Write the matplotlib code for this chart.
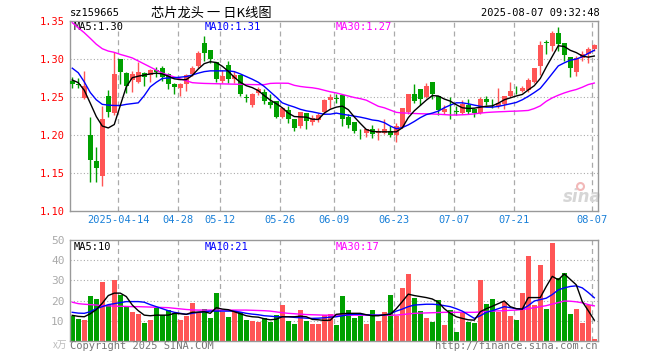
import matplotlib
matplotlib.use("Agg")
import matplotlib.pyplot as plt
import numpy as np

# header texts
code = "sz159665"
title = "芯片龙头 一 日K线图"
stamp = "2025-08-07 09:32:48"

# daily candles, 2025-04-01 .. 2025-08-07
opens = [1.271, 1.267, 1.249, 1.200, 1.166, 1.146, 1.251, 1.229, 1.300, 1.282,
         1.272, 1.270, 1.282, 1.279, 1.286, 1.2877, 1.2798, 1.2667, 1.2623, 1.2675,
         1.2798, 1.2908, 1.3215, 1.3118, 1.296, 1.2711, 1.2917, 1.2732, 1.2785, 1.2495,
         1.2395, 1.2557, 1.257, 1.2439, 1.2447, 1.2241, 1.2325, 1.2215, 1.2118, 1.2294,
         1.2175, 1.2202, 1.2307, 1.2456, 1.2491, 1.2526, 1.2241, 1.2175, 1.2031, 1.2031,
         1.2083, 1.2031, 1.2031, 1.2061, 1.2000, 1.2105, 1.2307, 1.2544, 1.2601, 1.2500,
         1.2702, 1.2513, 1.2307, 1.2342, 1.2311, 1.2294, 1.2395, 1.2338, 1.2285, 1.2478,
         1.2421, 1.2382, 1.2412, 1.2513, 1.2605, 1.2579, 1.2588, 1.2702, 1.2908, 1.3219,
         1.3171, 1.3346, 1.3215, 1.3026, 1.2833, 1.3018, 1.3070, 1.3127]
closes = [1.267, 1.266, 1.2645, 1.168, 1.157, 1.221, 1.231, 1.281, 1.283, 1.265,
          1.281, 1.283, 1.277, 1.285, 1.283, 1.2763, 1.2667, 1.2636, 1.2675, 1.2789,
          1.2877, 1.3083, 1.3083, 1.2996, 1.2732, 1.2776, 1.2732, 1.2785, 1.2535, 1.2491,
          1.2535, 1.2601, 1.2447, 1.2395, 1.2241, 1.2351, 1.2215, 1.2096, 1.2307, 1.2184,
          1.2228, 1.2263, 1.2456, 1.2500, 1.2478, 1.2219, 1.2132, 1.2053, 1.2026, 1.2075,
          1.2018, 1.2053, 1.2075, 1.2000, 1.2118, 1.2351, 1.2535, 1.2447, 1.2469, 1.2645,
          1.2544, 1.2325, 1.2346, 1.2338, 1.2307, 1.2412, 1.2307, 1.2294, 1.2469, 1.2434,
          1.2417, 1.2425, 1.2513, 1.2579, 1.2601, 1.2623, 1.2719, 1.2877, 1.3184, 1.3215,
          1.3346, 1.3202, 1.3053, 1.2886, 1.3018, 1.3070, 1.3127, 1.3184]
highs = [1.276, 1.275, 1.284, 1.224, 1.184, 1.238, 1.260, 1.309, 1.300, 1.283,
         1.284, 1.296, 1.283, 1.2865, 1.290, 1.2908, 1.282, 1.2689, 1.2689, 1.2798,
         1.2908, 1.3105, 1.3303, 1.3118, 1.296, 1.2855, 1.2974, 1.2842, 1.2785, 1.2544,
         1.2557, 1.2632, 1.2601, 1.2544, 1.2447, 1.2368, 1.2382, 1.2215, 1.2307, 1.2294,
         1.2263, 1.2294, 1.2469, 1.2544, 1.2535, 1.2526, 1.2272, 1.2175, 1.2075, 1.2075,
         1.2132, 1.2096, 1.2206, 1.2118, 1.2162, 1.2351, 1.2544, 1.2675, 1.2601, 1.2689,
         1.2702, 1.2513, 1.2395, 1.2500, 1.2382, 1.2456, 1.2469, 1.2360, 1.2500, 1.2513,
         1.2478, 1.2623, 1.2513, 1.2697, 1.2645, 1.2645, 1.2754, 1.2877, 1.3237, 1.3246,
         1.3368, 1.3421, 1.3215, 1.3026, 1.3039, 1.3105, 1.3158, 1.3202]
lows = [1.262, 1.262, 1.247, 1.139, 1.139, 1.133, 1.224, 1.227, 1.267, 1.255,
        1.257, 1.269, 1.264, 1.270, 1.276, 1.271, 1.2601, 1.2535, 1.2513, 1.2579,
        1.2776, 1.2886, 1.2974, 1.2952, 1.2702, 1.2689, 1.2689, 1.2689, 1.2513, 1.2439,
        1.2368, 1.2526, 1.2412, 1.236, 1.2228, 1.2228, 1.2162, 1.2061, 1.2096, 1.2075,
        1.214, 1.2175, 1.2272, 1.236, 1.2425, 1.2118, 1.2096, 1.2031, 1.1956, 1.1974,
        1.1965, 1.1943, 1.2009, 1.1974, 1.1912, 1.2088, 1.2281, 1.2425, 1.2395, 1.2491,
        1.2469, 1.2263, 1.2272, 1.2206, 1.2263, 1.2272, 1.2281, 1.2237, 1.2272, 1.2390,
        1.2351, 1.2360, 1.2338, 1.2500, 1.2544, 1.2570, 1.2570, 1.2689, 1.2789, 1.3070,
        1.3105, 1.3105, 1.2974, 1.2763, 1.2776, 1.2974, 1.2952, 1.3105]
# volume, unit 万
volume = [12.5, 10.8, 10.3, 22.5, 20.8, 29.0, 17.8, 30.0, 22.8, 17.5,
          14.5, 13.3, 9.0, 10.3, 16.2, 12.8, 15.3, 13.7, 10.3, 12.5,
          19.0, 14.2, 15.8, 11.5, 24.0, 14.5, 12.0, 14.8, 14.2, 10.3,
          9.8, 9.5, 11.2, 9.5, 12.8, 17.8, 10.0, 8.3, 15.3, 10.0,
          8.3, 8.3, 12.8, 13.3, 7.8, 22.3, 15.3, 11.3, 12.5, 8.3,
          15.3, 9.8, 14.3, 22.8, 12.5, 26.0, 33.3, 21.3, 14.8, 11.3,
          9.3, 20.3, 7.8, 15.3, 4.3, 14.0, 9.3, 9.0, 30.0, 18.3,
          20.8, 14.2, 19.5, 12.5, 10.3, 23.8, 42.0, 17.8, 37.5, 15.8,
          48.3, 31.2, 33.7, 13.3, 15.8, 9.0, 17.8, 0.8]

# moving averages as drawn on the chart
ma5 = [1.2725, 1.269, 1.259, 1.242, 1.2245, 1.212, 1.2095, 1.214, 1.239, 1.2635,
       1.2755, 1.2775, 1.279, 1.2805, 1.2815, 1.2805, 1.2775, 1.274, 1.273, 1.273,
       1.2785, 1.287, 1.294, 1.2965, 1.2955, 1.2905, 1.284, 1.276, 1.2695, 1.265,
       1.2625, 1.2585, 1.252, 1.246, 1.2415, 1.236, 1.229, 1.2245, 1.224, 1.2237,
       1.221, 1.2206, 1.229, 1.234, 1.2368, 1.2382, 1.2335, 1.224, 1.2155, 1.2075,
       1.205, 1.2044, 1.2044, 1.2044, 1.2044, 1.2096, 1.223, 1.232, 1.239, 1.246,
       1.252, 1.2515, 1.2475, 1.2447, 1.240, 1.236, 1.2351, 1.2355, 1.2368, 1.238,
       1.2385, 1.242, 1.2465, 1.249, 1.2515, 1.2535, 1.2595, 1.265, 1.2745, 1.2895,
       1.3035, 1.3175, 1.3165, 1.3115, 1.3085, 1.304, 1.3025, 1.304]
ma10 = [1.288, 1.282, 1.270, 1.256, 1.2465, 1.2405, 1.2395, 1.239, 1.239, 1.2405,
        1.2415, 1.2425, 1.252, 1.2635, 1.2695, 1.2745, 1.2752, 1.2755, 1.2762, 1.277,
        1.279, 1.2815, 1.2835, 1.2845, 1.2845, 1.2845, 1.2845, 1.2835, 1.2805, 1.277,
        1.2735, 1.2695, 1.264, 1.257, 1.250, 1.2425, 1.2395, 1.237, 1.234, 1.232,
        1.2307, 1.229, 1.2275, 1.2276, 1.229, 1.2275, 1.2263, 1.225, 1.2237, 1.222,
        1.220, 1.219, 1.2165, 1.212, 1.2085, 1.210, 1.2135, 1.218, 1.223, 1.227,
        1.229, 1.2316, 1.236, 1.2395, 1.2425, 1.2425, 1.2412, 1.2395, 1.238, 1.2368,
        1.2368, 1.2378, 1.2395, 1.2412, 1.243, 1.2465, 1.251, 1.256, 1.2615, 1.271,
        1.281, 1.291, 1.295, 1.2985, 1.300, 1.303, 1.3075, 1.3115]
ma30 = [1.3478, 1.341, 1.3346, 1.3272, 1.3195, 1.3136, 1.3105, 1.3088, 1.3061, 1.3039,
        1.3015, 1.2975, 1.2935, 1.2895, 1.2855, 1.2815, 1.279, 1.2765, 1.274, 1.2715,
        1.269, 1.2684, 1.268, 1.2678, 1.2676, 1.2674, 1.2672, 1.267, 1.2668, 1.2666,
        1.2665, 1.2664, 1.2664, 1.268, 1.2683, 1.2683, 1.2682, 1.2655, 1.264, 1.263,
        1.2623, 1.261, 1.259, 1.257, 1.2555, 1.2535, 1.2515, 1.2495, 1.248, 1.246,
        1.242, 1.238, 1.236, 1.233, 1.230, 1.2292, 1.229, 1.2285, 1.2282, 1.228,
        1.2278, 1.2275, 1.227, 1.2265, 1.2265, 1.2268, 1.2272, 1.228, 1.229, 1.2298,
        1.2303, 1.2307, 1.231, 1.2314, 1.2316, 1.232, 1.2325, 1.235, 1.2385, 1.2445,
        1.249, 1.2525, 1.2555, 1.258, 1.260, 1.263, 1.2665, 1.2685]
vma5 = [12.7, 12.2, 12.0, 13.5, 15.5, 18.7, 22.5, 23.7, 23.7, 22.0,
        17.8, 15.0, 12.8, 12.5, 12.8, 12.8, 12.8, 13.7, 13.5, 13.2,
        14.2, 14.3, 14.5, 13.7, 16.5, 15.8, 15.5, 14.5, 13.5, 12.5,
        12.0, 11.8, 11.0, 10.5, 10.8, 12.0, 12.0, 12.0, 12.3, 12.0,
        10.7, 10.5, 10.2, 10.3, 13.2, 13.5, 13.7, 13.7, 13.7, 13.0,
        12.5, 12.5, 13.0, 13.2, 16.0, 19.5, 23.2, 22.5, 22.0, 21.5,
        20.8, 19.2, 16.0, 13.7, 12.0, 11.2, 10.5, 10.3, 14.5, 16.0,
        17.2, 18.5, 19.8, 17.0, 16.0, 15.8, 21.5, 21.5, 21.5, 27.0,
        32.0, 30.3, 33.2, 30.5, 27.8, 19.5, 15.0, 10.3]
vma10 = [14.2, 13.8, 13.7, 14.5, 16.0, 17.0, 18.0, 18.5, 19.0, 19.5,
         19.5, 19.5, 19.2, 18.0, 17.0, 16.0, 15.0, 14.2, 13.7, 13.2,
         13.7, 14.2, 14.5, 14.8, 14.8, 14.8, 14.8, 14.8, 14.3, 13.7,
         13.3, 13.0, 12.5, 12.3, 12.0, 12.0, 12.0, 11.7, 11.5, 11.3,
         11.2, 11.3, 11.5, 11.8, 12.0, 12.5, 13.0, 13.2, 13.2, 13.0,
         12.8, 12.8, 12.8, 13.5, 14.8, 15.8, 17.0, 17.8, 18.0, 18.2,
         18.2, 18.0, 17.5, 17.0, 16.0, 14.8, 13.0, 11.2, 12.5, 14.2,
         15.0, 16.0, 17.0, 16.5, 16.0, 15.8, 17.5, 19.8, 20.5, 21.2,
         23.0, 25.3, 26.3, 27.0, 27.3, 26.3, 24.0, 21.4]
vma30 = [19.2, 18.5, 18.2, 18.0, 17.8, 17.5, 17.4, 17.3, 17.2, 17.1,
         17.0, 17.0, 16.9, 16.8, 16.7, 16.6, 16.5, 16.2, 15.9, 15.6,
         15.4, 15.3, 15.3, 15.3, 15.3, 15.3, 15.3, 15.3, 15.3, 15.3,
         15.2, 15.1, 15.0, 14.8, 14.4, 14.0, 13.7, 13.5, 13.3, 13.1,
         13.0, 12.9, 12.8, 12.8, 12.8, 12.8, 12.8, 12.8, 12.8, 12.8,
         12.8, 12.8, 12.8, 12.8, 12.8, 13.1, 13.4, 13.7, 13.8, 13.9,
         14.0, 14.1, 14.2, 14.2, 14.2, 14.2, 14.2, 14.2, 14.4, 14.6,
         14.8, 14.9, 15.0, 15.2, 15.3, 15.6, 16.0, 16.5, 17.0, 17.5,
         18.3, 19.0, 19.8, 19.7, 19.4, 18.9, 18.0, 17.4]

date_pos = [8, 18, 25, 35, 44, 54, 64, 74, 87]
date_labels = ["2025-04-14", "04-28", "05-12", "05-26", "06-09", "06-23", "07-07", "07-21", "08-07"]
price_ticks = [1.10, 1.15, 1.20, 1.25, 1.30, 1.35]
vol_ticks = [10, 20, 30, 40, 50]

RED = "#ff5555"
GREEN = "#00a000"
GRID = "#aaaaaa"
MONO = "DejaVu Sans Mono"
W, H = 660, 360


def px(x, y):
    return x / W, 1 - y / H


x = np.arange(len(opens))
o = np.array(opens)
c = np.array(closes)
up = c >= o
colors = np.where(up, RED, GREEN)

fig = plt.figure(figsize=(6.6, 3.6), dpi=100)
fig.patch.set_facecolor("white")

ax = fig.add_axes([70 / W, 1 - 211.3 / H, 528 / W, 190.3 / H])
axv = fig.add_axes([70 / W, 1 - 341 / H, 528 / W, 101 / H])

xmin, xmax = -0.38, 87.62
grid_x = [p - 0.35 for p in date_pos]

for a in (ax, axv):
    a.set_xlim(xmin, xmax)
    for s in a.spines.values():
        s.set_color("#999999")
        s.set_linewidth(1)
    for gx in grid_x:
        a.axvline(gx, color=GRID, lw=0.9, ls=(0, (4, 3)), zorder=0)
    a.tick_params(length=0)

# price panel
ax.set_ylim(1.10, 1.35)
for yv in price_ticks[1:-1]:
    ax.axhline(yv, color=GRID, lw=0.8, ls=(0, (1, 2)), zorder=0)

ax.vlines(x, lows, highs, colors=colors, lw=1, zorder=2)
body = np.maximum(np.abs(c - o), 0.0008)
ax.bar(x, body, bottom=np.minimum(o, c), width=0.78, color=colors, lw=0, zorder=3)

ax.plot(x, ma30, color="#ff00ff", lw=1, zorder=4)
ax.plot(x, ma10, color="#0000ff", lw=1, zorder=4)
ax.plot(x, ma5, color="black", lw=1, zorder=5)

ax.set_yticks(price_ticks)
ax.set_yticklabels(["%.2f" % t for t in price_ticks], color="red", family=MONO, fontsize=7.5)
ax.set_xticks(grid_x)
ax.set_xticklabels(date_labels, color="#1a80d8", family=MONO, fontsize=7.5)
ax.tick_params(axis="x", pad=3)
ax.tick_params(axis="y", pad=4)

ax.text(4 / 528, 1 - 6 / 190.3, "MA5:%.2f" % ma5[-1], transform=ax.transAxes, family=MONO,
        fontsize=7.5, color="black", va="center", ha="left")
ax.text(135 / 528, 1 - 6 / 190.3, "MA10:%.2f" % ma10[-1], transform=ax.transAxes, family=MONO,
        fontsize=7.5, color="#0000ff", va="center", ha="left")
ax.text(266 / 528, 1 - 6 / 190.3, "MA30:%.2f" % ma30[-1], transform=ax.transAxes, family=MONO,
        fontsize=7.5, color="#ff00ff", va="center", ha="left")

# sina watermark, bottom right of the price panel
ax.text(85.0, 1.119, "sina", color="#d6d6d6", fontsize=12, fontweight="bold", style="italic",
        ha="center", va="center", zorder=1)
ax.plot([84.6], [1.133], marker="o", ms=5, mfc="none", mec="#f2b8b8", mew=1.5, zorder=1)

# volume panel
axv.set_ylim(0, 50)
for yv in vol_ticks[:-1]:
    axv.axhline(yv, color=GRID, lw=0.8, ls=(0, (1, 2)), zorder=0)
axv.bar(x, volume, width=0.8, color=colors, lw=0, zorder=2)
axv.plot(x, vma30, color="#ff00ff", lw=1, zorder=3)
axv.plot(x, vma10, color="#0000ff", lw=1, zorder=3)
axv.plot(x, vma5, color="black", lw=1, zorder=4)
axv.set_yticks(vol_ticks)
axv.set_yticklabels([str(t) for t in vol_ticks], color="#aaaaaa", family=MONO, fontsize=8)
axv.tick_params(axis="y", pad=4)
axv.set_xticks([])

axv.text(4 / 528, 1 - 7 / 101, "MA5:%d" % round(vma5[-1]), transform=axv.transAxes, family=MONO,
         fontsize=7.5, color="black", va="center", ha="left")
axv.text(135 / 528, 1 - 7 / 101, "MA10:%d" % round(vma10[-1]), transform=axv.transAxes, family=MONO,
         fontsize=7.5, color="#0000ff", va="center", ha="left")
axv.text(266 / 528, 1 - 7 / 101, "MA30:%d" % round(vma30[-1]), transform=axv.transAxes, family=MONO,
         fontsize=7.5, color="#ff00ff", va="center", ha="left")

# header and footer texts
fig.text(*px(70, 13), code, family=MONO, fontsize=7.5, va="center", ha="left")
fig.text(*px(151, 13), title, family=["Noto Sans CJK SC", "DejaVu Sans"], fontsize=9.5,
         va="center", ha="left")
fig.text(*px(600, 13), stamp, family=MONO, fontsize=7.5, va="center", ha="right")
fig.text(*px(67, 345), "x万", family=["Noto Sans CJK SC", "DejaVu Sans"], fontsize=7,
         color="#bbbbbb", va="center", ha="right")
fig.text(*px(70, 346), "Copyright 2025 SINA.COM", family=MONO, fontsize=7.5,
         color="#777777", va="center", ha="left")
fig.text(*px(598, 346), "http://finance.sina.com.cn", family=MONO, fontsize=7.5,
         color="#777777", va="center", ha="right")

fig.savefig("out.png", dpi=100)
